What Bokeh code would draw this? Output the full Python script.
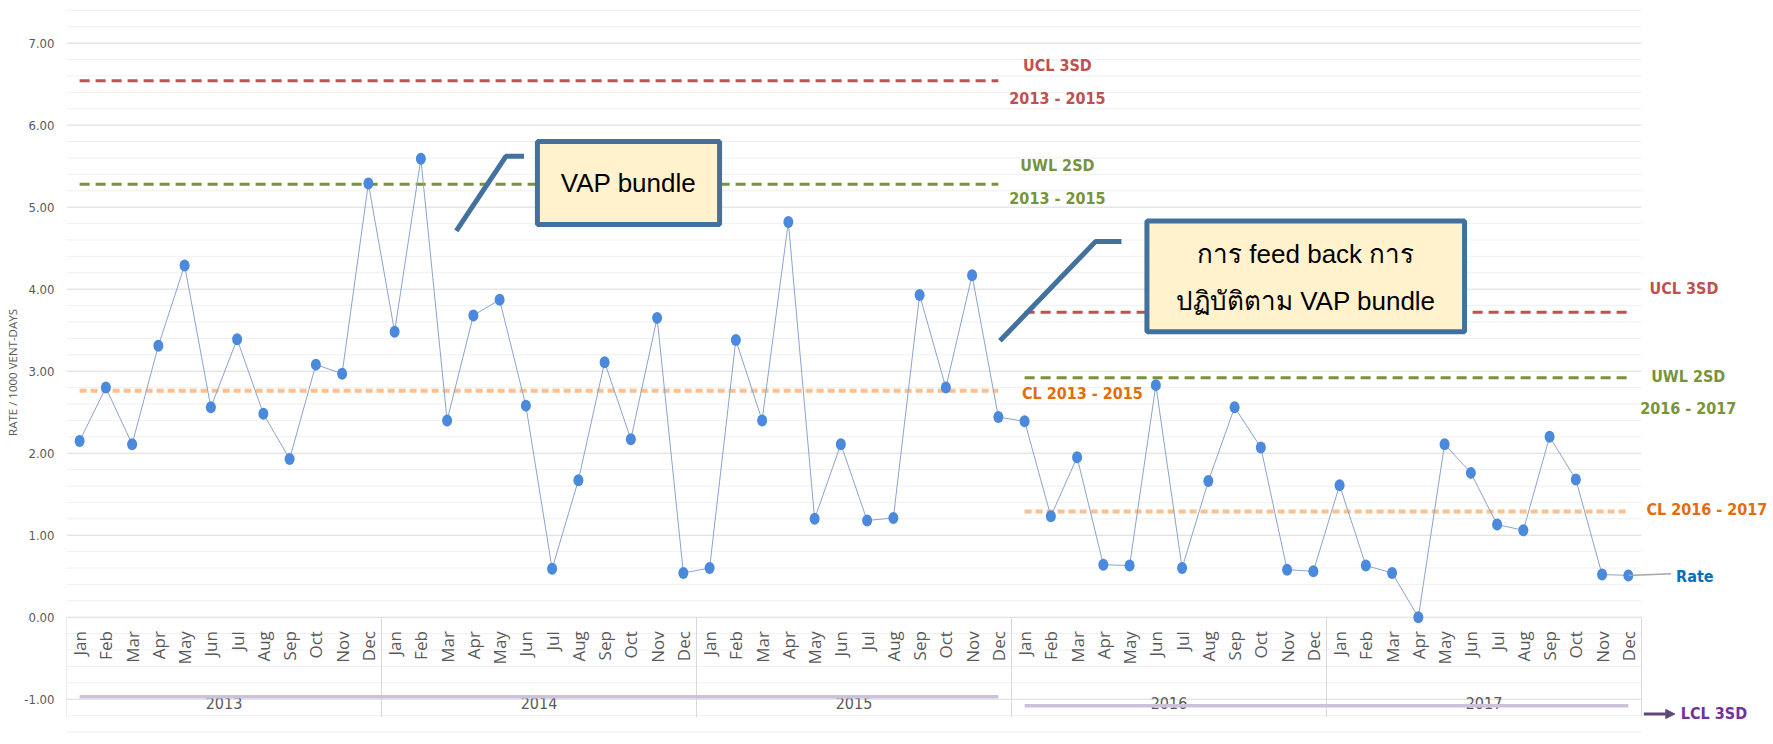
import numpy as np
from bokeh.plotting import figure
from bokeh.models import Range1d, FixedTicker, NumeralTickFormatter, Arrow, NormalHead
from bokeh.core.properties import value
from bokeh.embed import file_html
from bokeh.resources import INLINE

# ---------------- data ----------------
years = ["2013", "2014", "2015", "2016", "2017"]
months = ["Jan", "Feb", "Mar", "Apr", "May", "Jun", "Jul", "Aug", "Sep", "Oct", "Nov", "Dec"]
rate_2013 = [2.15, 2.80, 2.11, 3.31, 4.29, 2.56, 3.39, 2.48, 1.93, 3.08, 2.97, 5.29]
rate_2014 = [3.48, 5.59, 2.40, 3.68, 3.87, 2.58, 0.59, 1.67, 3.11, 2.17, 3.65, 0.54]
rate_2015 = [0.60, 3.38, 2.40, 4.82, 1.20, 2.11, 1.18, 1.21, 3.93, 2.80, 4.17, 2.44]
rate_2016 = [2.39, 1.23, 1.95, 0.64, 0.63, 2.83, 0.60, 1.66, 2.56, 2.07, 0.58, 0.56]
rate_2017 = [1.61, 0.63, 0.54, 0.00, 2.11, 1.76, 1.13, 1.06, 2.20, 1.68, 0.52, 0.51]

ucl_2013_2015 = 6.54
uwl_2013_2015 = 5.28
cl_2013_2015 = 2.76
lcl_2013_2015 = -0.97
ucl_2016_2017 = 3.72
uwl_2016_2017 = 2.92
cl_2016_2017 = 1.29
lcl_2016_2017 = -1.08

y_ticks = [-1, 0, 1, 2, 3, 4, 5, 6, 7]
y_title = "RATE / 1000 VENT-DAYS"
callout1 = ["VAP bundle"]
callout2 = ["การ feed back การ", "ปฏิบัติตาม VAP bundle"]

# ---------------- derived ----------------
rate = rate_2013 + rate_2014 + rate_2015 + rate_2016 + rate_2017
n = len(rate)
idx = list(range(n))
month_labels = months * len(years)
p1_start, p1_end = 0, 3 * 12 - 1
p2_start, p2_end = 3 * 12, n - 1

COND = "DejaVu Sans Condensed"

W, H = 1773, 744
p = figure(width=W, height=H, x_range=Range1d(-0.5, 64.53), y_range=Range1d(-1.552, 7.52),
           output_backend="svg", toolbar_location=None, x_axis_location=None,
           min_border_left=66, min_border_right=0, min_border_top=0, min_border_bottom=0)
p.outline_line_color = None
p.xgrid.visible = False
p.ygrid.visible = False
p.background_fill_color = "white"
p.border_fill_color = "white"

ax = p.yaxis[0]
ax.ticker = FixedTicker(ticks=y_ticks)
ax.formatter = NumeralTickFormatter(format="0.00")
ax.axis_line_color = None
ax.major_tick_line_color = None
ax.minor_tick_line_color = None
ax.major_tick_out = 0
ax.major_tick_in = 0
ax.minor_tick_out = 0
ax.minor_tick_in = 0
ax.major_label_text_font = COND
ax.major_label_text_font_size = "13px"
ax.major_label_text_color = "#595959"
ax.major_label_standoff = 12
ax.axis_label = y_title
ax.axis_label_text_font = "Open Sans"
ax.axis_label_text_font_style = "normal"
ax.axis_label_text_font_size = "11.5px"
ax.axis_label_text_color = "#595959"
ax.axis_label_standoff = 1

# gridlines
grid_x0, grid_x1 = -0.5, n - 0.5
minor = [round(v, 1) for v in np.arange(-1.4, 7.41, 0.2) if abs(v - round(v)) > 1e-6]
major = [float(v) for v in y_ticks]
p.segment(x0=grid_x0, x1=grid_x1, y0=minor, y1=minor, line_color="#f0f0f0", line_width=1)
p.segment(x0=grid_x0, x1=grid_x1, y0=major, y1=major, line_color="#d9d9d9", line_width=1)
# category-axis separators
sep_x = [-0.5 + 12 * k for k in range(len(years) + 1)]
p.segment(x0=sep_x, x1=sep_x, y0=0, y1=-1.22, line_color="#d9d9d9", line_width=1)

# month and year labels
p.text(x=idx, y=-0.17, text=month_labels, angle=np.pi / 2, text_align="right", text_baseline="middle",
       text_font=value("Open Sans"), text_font_size="17px", text_color="#595959")
p.text(x=[5.5 + 12 * k for k in range(len(years))], y=-1.05, text=years, text_align="center",
       text_baseline="middle", text_font=value(COND), text_font_size="16px",
       text_color="#595959")

# control limit lines
def hline(x0, x1, y, **kw):
    p.line([x0, x1], [y, y], **kw)

hline(p1_start, p1_end, lcl_2013_2015, line_color="#ccc1da", line_width=3.5)
hline(p2_start, p2_end, lcl_2016_2017, line_color="#ccc1da", line_width=3.5)
hline(p1_start, p1_end, ucl_2013_2015, line_color="#c0504d", line_width=3, line_dash="10 6")
hline(p2_start, p2_end, ucl_2016_2017, line_color="#c0504d", line_width=3, line_dash="10 6")
hline(p1_start, p1_end, uwl_2013_2015, line_color="#77933c", line_width=3, line_dash="10 6")
hline(p2_start, p2_end, uwl_2016_2017, line_color="#77933c", line_width=3, line_dash="10 6")
hline(p1_start, p1_end, cl_2013_2015, line_color="#fac08f", line_width=4, line_dash="7 4")
hline(p2_start, p2_end, cl_2016_2017, line_color="#fac08f", line_width=4, line_dash="7 4")

# rate series
p.line(idx, rate, line_color="#8aa4cc", line_width=1)
p.ellipse(x=idx, y=rate, width=10, height=12, width_units="screen", height_units="screen",
          fill_color="#4a89dc", line_color=None)

# rate leader + label
p.line([p2_end, 60.63], [rate[-1], 0.53], line_color="#a6a6a6", line_width=1.5)

LAB = value(COND)
def label(xs, ys, txt, color, align="center", size="16px"):
    p.text(x=xs, y=ys, text=txt, text_align=align, text_baseline="middle", text_font=LAB,
           text_font_style="bold", text_font_size=size, text_color=color)

label([37.25, 37.25], [6.73, 6.33], ["UCL 3SD", "2013 - 2015"], "#c0504d")
label([37.25, 37.25], [5.51, 5.10], ["UWL 2SD", "2013 - 2015"], "#77933c")
label([35.9], [2.73], ["CL 2013 - 2015"], "#e46c0a", align="left")
label([61.12], [4.01], ["UCL 3SD"], "#c0504d")
label([61.28, 61.28], [2.93, 2.54], ["UWL 2SD", "2016 - 2017"], "#77933c")
label([59.69], [1.31], ["CL 2016 - 2017"], "#e46c0a", align="left")
label([60.82], [0.50], ["Rate"], "#0070c0", align="left")
label([61.0], [-1.17], ["LCL 3SD"], "#7030a0", align="left")

p.add_layout(Arrow(end=NormalHead(size=9, fill_color="#5f497a", line_color="#5f497a"),
                   x_start=59.59, y_start=-1.18, x_end=60.77, y_end=-1.18,
                   line_color="#5f497a", line_width=3))

# callouts
BOX = "#41719c"
p.line([14.35, 16.24, 16.93], [4.71, 5.62, 5.62], line_color=BOX, line_width=5)
p.quad(left=17.44, right=24.38, top=5.80, bottom=4.79, fill_color="#fff2cc", line_color=BOX, line_width=5)
p.text(x=[(17.44 + 24.38) / 2], y=[5.29], text=callout1, text_align="center", text_baseline="middle",
       text_font=value("Liberation Sans"), text_font_size="26px", text_color="black")

p.line([35.06, 38.70, 39.69], [3.37, 4.58, 4.58], line_color=BOX, line_width=5)
p.quad(left=40.66, right=52.76, top=4.83, bottom=3.48, fill_color="#fff2cc", line_color=BOX, line_width=5)
p.text(x=[(40.66 + 52.76) / 2] * 2, y=[4.43, 3.86], text=callout2, text_align="center", text_baseline="middle",
       text_font=value("Liberation Sans"), text_font_size="26px", text_color="black")

open("out.html", "w").write(file_html(p, INLINE))
